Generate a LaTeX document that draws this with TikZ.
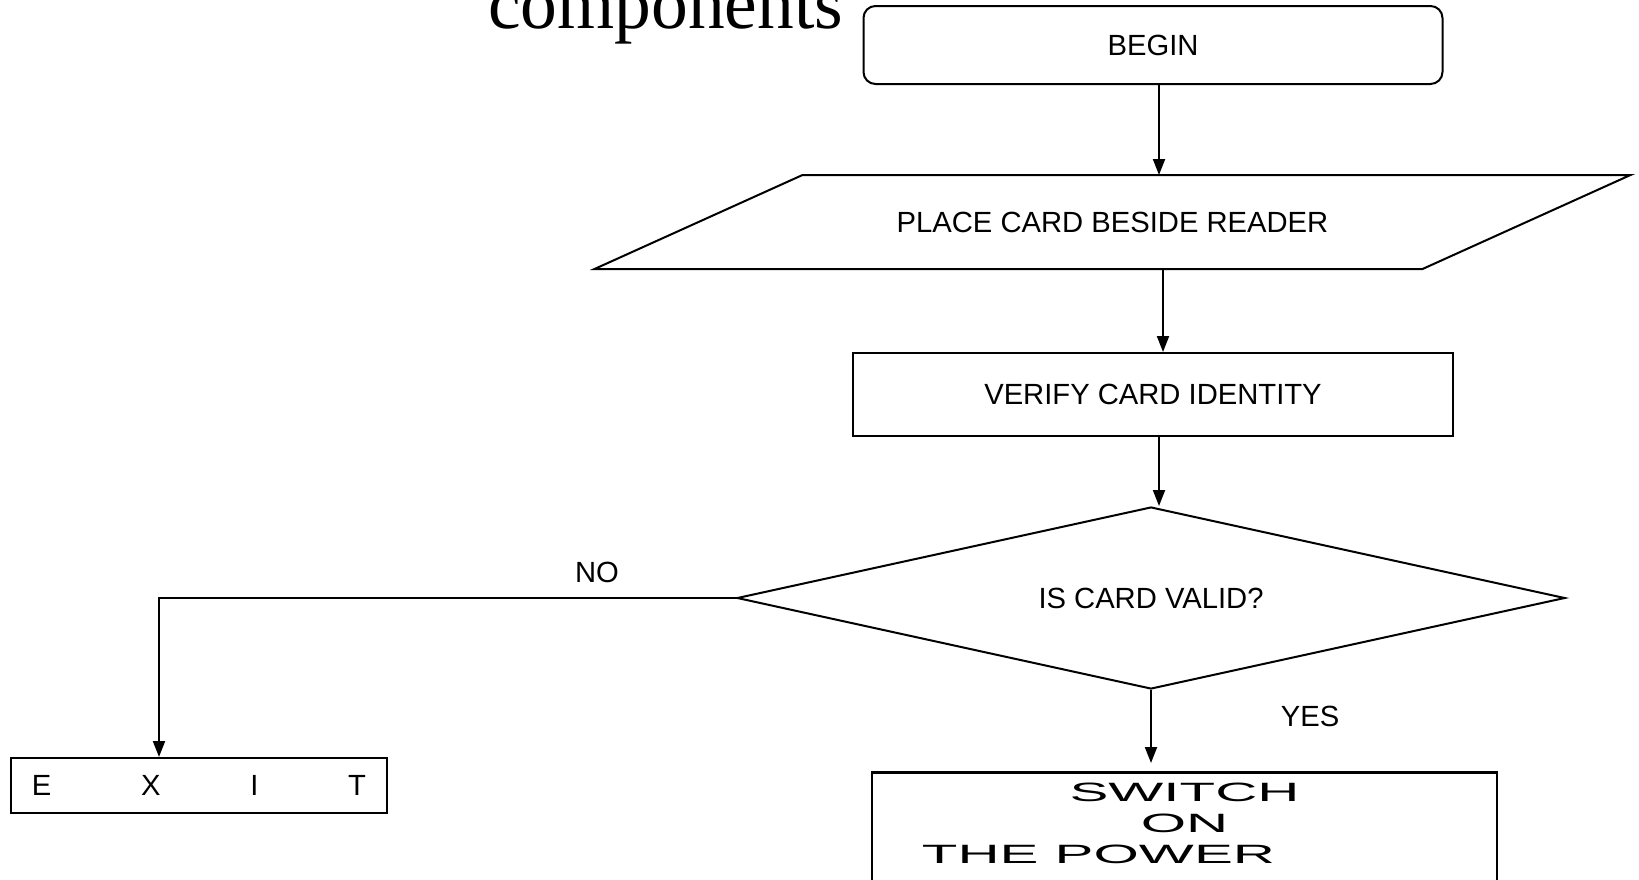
\documentclass[tikz,border=0pt]{standalone}
\usepackage{fontspec}
\setmainfont{Liberation Sans}
\newfontfamily\titlefont{Liberation Serif}
\usetikzlibrary{shapes.geometric,arrows.meta}

\newcommand{\widetext}[1]{\scalebox{2.2}[1]{#1}}

\begin{document}
\begin{tikzpicture}[x=0.5pt, y=-0.5pt, line width=1pt,
  every node/.style={font=\fontsize{14.6}{17.5}\selectfont},
  flow/.style={-{Triangle[length=8pt,width=6pt]}},
  startbox/.style={draw, rounded corners=6pt, minimum width=289.5pt, minimum height=39pt},
  inputbox/.style={rectangle, minimum width=413pt, minimum height=46pt},
  procbox/.style={draw, rectangle},
  testbox/.style={draw, diamond, aspect=4.5, minimum width=414pt, minimum height=91pt}]
\useasboundingbox (0,0) rectangle (1639,879);

\node[anchor=base west, inner sep=0, font=\titlefont\fontsize{36.75}{44}\selectfont] (title) at (487,28) {components};

\node[startbox] (begin) at (1153,45) {BEGIN};
\node[inputbox] (place) at (1112.5,222) {PLACE CARD BESIDE READER};
\draw ([xshift=-52pt]place.south west) -- ([xshift=52pt]place.north west)
  -- ([xshift=52pt]place.north east) -- ([xshift=-52pt]place.south east) -- cycle;
\node[procbox, minimum width=300pt, minimum height=41.5pt] (verify) at (1153,394.5) {VERIFY CARD IDENTITY};
\node[testbox] (valid) at (1151,598) {IS CARD VALID?};
\node[procbox, minimum width=188pt, minimum height=27.5pt] (exit) at (199,785.5)
  {\makebox[167pt][s]{E\hfill X\hfill I\hfill T}};
\node[procbox, line width=1.4pt, anchor=north, minimum width=312.5pt, minimum height=60pt] (power) at (1184.5,771) {};
\node[anchor=north, inner sep=0, align=center, font=\fontsize{13.25}{15.5}\selectfont] (powertext)
  at ([yshift=-5.25pt]power.north) {\widetext{SWITCH}\\ \widetext{ON}\\ \widetext{THE POWER}\hspace*{86pt}};

\node (no) at (597,572) {NO};
\node (yes) at (1310,716) {YES};

\draw[flow] ([xshift=3pt]begin.south) -- ([xshift=3pt]begin.south |- place.north);
\draw[flow] ([xshift=5pt]verify.north |- place.south) -- ([xshift=5pt]verify.north);
\draw[flow] ([xshift=3pt]verify.south) -- ([xshift=3pt]verify.south |- valid.north);
\draw[flow] (valid.west) -| ([xshift=-20pt]exit.north);
\draw[flow] (valid.south) -- ([yshift=4pt]valid.south |- power.north);

\end{tikzpicture}
\end{document}
